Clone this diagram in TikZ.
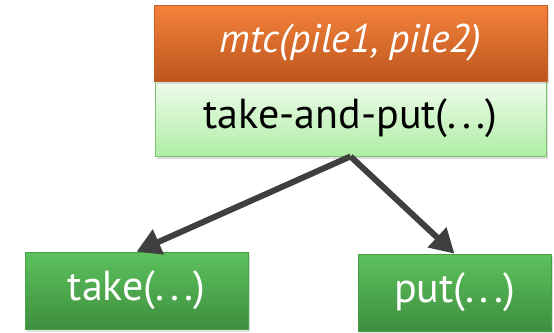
\documentclass[tikz,border=0pt]{standalone}
\usepackage{fontspec}
\setmainfont{PT Sans}
\usetikzlibrary{arrows.meta,shadows}
\definecolor{orangetop}{HTML}{F5823A}
\definecolor{orangebot}{HTML}{BD561E}
\definecolor{orangeedge}{HTML}{C8602A}
\definecolor{mintop}{HTML}{EFFBEC}
\definecolor{minbot}{HTML}{AFEEA5}
\definecolor{minedge}{HTML}{78C46C}
\definecolor{leaftop}{HTML}{5DC15D}
\definecolor{leafbot}{HTML}{3E8F3E}
\definecolor{leafedge}{HTML}{46A046}
\definecolor{arrowgray}{HTML}{3F3F3F}
% widely spaced ellipsis
\newcommand{\wideellip}{.\kern0.13em.\kern0.13em.}
\tikzset{
  boxshadow/.style={drop shadow={opacity=0.25,shadow xshift=2pt,shadow yshift=-3pt}},
  headbox/.style={draw=orangeedge,line width=0.6pt,top color=orangetop,bottom color=orangebot,
    text=white,inner sep=0pt,boxshadow},
  planbox/.style={draw=minedge,line width=0.8pt,top color=mintop,bottom color=minbot,
    text=black,inner sep=0pt,boxshadow},
  leafbox/.style={draw=leafedge,line width=0.6pt,top color=leaftop,bottom color=leafbot,
    text=white,inner sep=0pt,boxshadow},
  bigtext/.style={font=\fontsize{42}{46}\selectfont},
  arr/.style={draw=arrowgray,line width=6pt,-{Triangle[length=24pt,width=26pt]}},
}
\begin{document}
\begin{tikzpicture}[x=1pt,y=-1pt]
\useasboundingbox (0,0) rectangle (554,332);
% decomposition tree: method on top, its subtasks below
\node[planbox,bigtext,minimum width=391pt,minimum height=75pt]
  (tap) at (350.5,118.5) {take-and-put(\wideellip)};
\node[headbox,minimum width=393pt,minimum height=76pt,font=\fontsize{40}{44}\selectfont\itshape]
  (mtc) at (350.5,43) {mtc(pile1, pile2)};
\node[leafbox,bigtext,minimum width=223pt,minimum height=77pt]
  (take) at (136.5,290.5) {take(\wideellip)};
\node[leafbox,bigtext,minimum width=193pt,minimum height=77pt]
  (put) at (454.5,292.5) {put(\wideellip)};
\draw[arr] (tap.south) -- (take.north);
\draw[arr] (tap.south) -- (put.north);
\end{tikzpicture}
\end{document}
